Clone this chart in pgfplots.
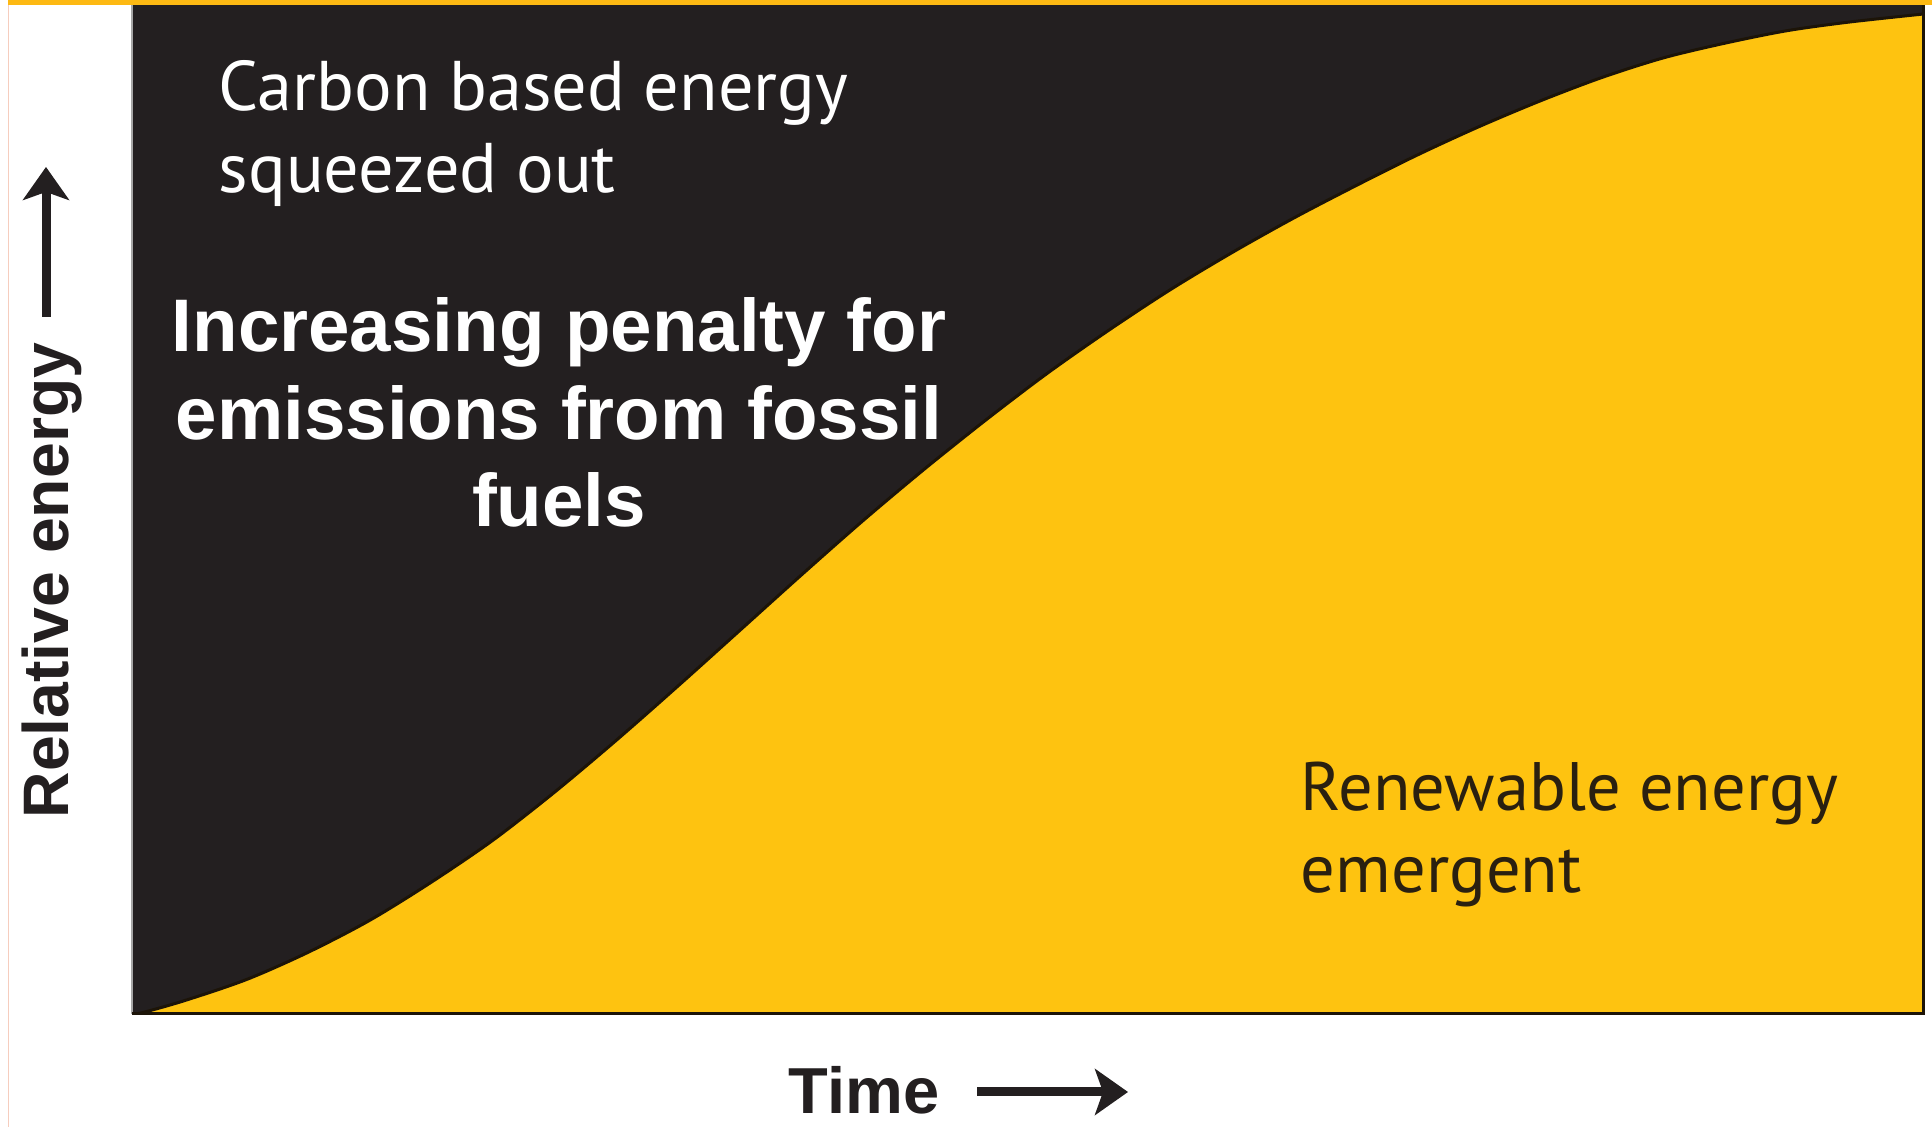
\documentclass[border=0pt]{standalone}
\usepackage{pgfplots}
\pgfplotsset{compat=1.18}
\usepackage{pgfplotstable}
\usepackage{fontspec}
\setmainfont{Liberation Sans}
\newfontfamily\myriad{PT Sans}
\usetikzlibrary{arrows.meta}
\definecolor{coal}{HTML}{231F20}
\definecolor{sun}{HTML}{FEC310}
\definecolor{band}{HTML}{FDB913}
\definecolor{edge}{HTML}{1C1408}
\definecolor{rtext}{HTML}{2A2010}

\pgfplotstableread{
x y
0.0 0.0
0.55 0.12
2.96 1.34
6.40 3.42
9.83 6.11
13.27 9.28
16.71 13.06
20.15 17.22
23.59 21.98
27.03 27.11
30.47 32.48
33.91 37.97
37.35 43.47
40.78 48.84
44.22 53.97
47.66 58.85
51.10 63.49
54.54 67.77
57.98 71.79
61.42 75.46
64.86 78.88
68.29 82.05
71.73 85.10
75.17 87.91
78.61 90.48
82.05 92.80
85.49 94.75
88.93 96.21
92.37 97.44
95.80 98.29
100 99.10
}\share

\begin{document}
\begin{tikzpicture}
\useasboundingbox (0,0) rectangle (193.2mm,112.7mm);
% thin left rule and top band
\draw[color={rgb,255:red,246;green,205;blue,190}, line width=0.1mm] (0.8mm,0) -- (0.8mm,112.2mm);
\fill[band] (0.8mm,112.2mm) rectangle (193.2mm,112.7mm);
\begin{axis}[name=ax, at={(13.2mm,11.3mm)}, anchor=south west,
  width=179.1mm, height=100.9mm, scale only axis,
  xmin=0, xmax=100, ymin=0, ymax=100,
  axis background/.style={fill=coal},
  axis line style={draw=none}, xtick=\empty, ytick=\empty]
\addplot[fill=sun, draw=none, smooth] table[x=x,y=y]{\share} \closedcycle;
\addplot[draw=edge, line width=0.3mm, smooth] table[x=x,y=y]{\share};
\end{axis}
\draw[gray!70, line width=0.2mm] (ax.south west) -- (ax.north west);
\draw[edge, line width=0.3mm] (ax.south west) -- (ax.south east) -- (ax.north east);
% texts
\node[anchor=base west, inner sep=0, text=white, font=\myriad\fontsize{20}{24}\selectfont] at (21.8mm,101.6mm) {Carbon based energy};
\node[anchor=base west, inner sep=0, text=white, font=\myriad\fontsize{20}{24}\selectfont] at (21.8mm,93.4mm) {squeezed out};
\node[anchor=base, inner sep=0, text=white, font=\bfseries\fontsize{21.2}{24}\selectfont] at (55.9mm,77.5mm) {Increasing penalty for};
\node[anchor=base, inner sep=0, text=white, font=\bfseries\fontsize{21.2}{24}\selectfont] at (55.9mm,68.7mm) {emissions from fossil};
\node[anchor=base, inner sep=0, text=white, font=\bfseries\fontsize{21.2}{24}\selectfont] at (55.9mm,60.0mm) {fuels};
\node[anchor=base west, inner sep=0, text=rtext, font=\myriad\fontsize{19.5}{24}\selectfont] at (130.0mm,31.6mm) {Renewable energy};
\node[anchor=base west, inner sep=0, text=rtext, font=\myriad\fontsize{19.5}{24}\selectfont] at (130.0mm,23.4mm) {emergent};
% axis labels
\node[anchor=base west, rotate=90, inner sep=0, text=coal, font=\bfseries\fontsize{18.3}{22}\selectfont] at (6.8mm,30.8mm) {Relative energy};
\draw[coal, line width=0.9mm, -{Stealth[length=3.3mm, width=4.6mm, inset=0.8mm]}] (4.6mm,81.0mm) -- (4.6mm,96.0mm);
\node[anchor=base west, inner sep=0, text=coal, font=\bfseries\fontsize{18.5}{22}\selectfont] at (78.8mm,1.3mm) {Time};
\draw[coal, line width=0.9mm, -{Stealth[length=3.3mm, width=4.6mm, inset=0.8mm]}] (97.7mm,3.5mm) -- (112.8mm,3.5mm);
\end{tikzpicture}
\end{document}
